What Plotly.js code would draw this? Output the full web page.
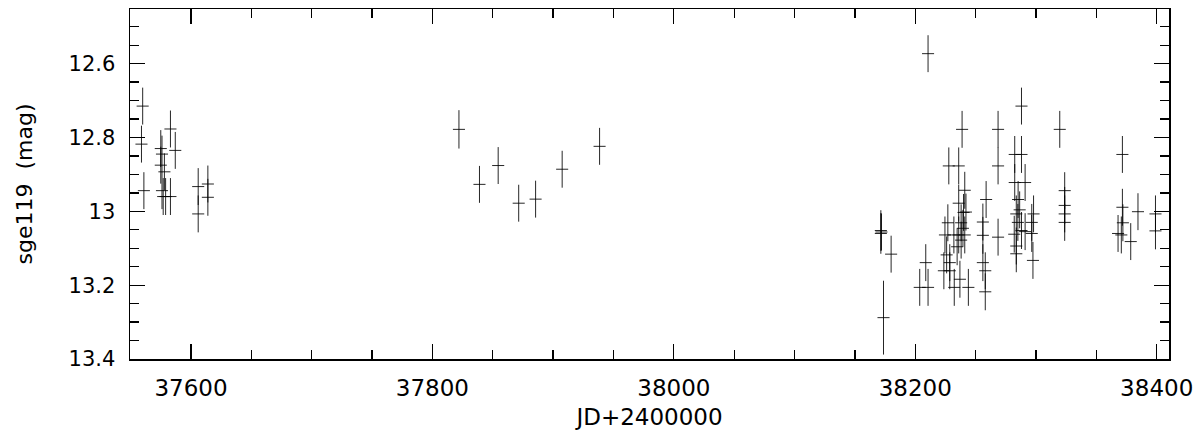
<!DOCTYPE html>
<html>
<head>
<meta charset="utf-8">
<script src="https://cdn.plot.ly/plotly-3.0.1.min.js"></script>
<style>html,body{margin:0;padding:0;background:#fff;}#chart{width:1200px;height:430px;}</style>
</head>
<body>
<div id="chart"></div>
<script>
// Julian date (JD - 2400000)
const jd = [
  37560, 37559, 37561, 37575, 37576, 37575, 37576, 37577, 37578, 37579, 37583, 37587, 37583, 37606, 37606, 37614, 37614,
  37822, 37839, 37854.5, 37871.5, 37885.5, 37907.5, 37938.5,
  38210.6, 38171.5, 38172, 38171.5, 38180, 38173.7, 38203.7, 38208.7, 38210.6,
  38227.8, 38236, 38238.8, 38268.6, 38268.6, 38268.6, 38258.7, 38256, 38256, 38256, 38258, 38258,
  38241, 38236, 38242, 38227, 38238, 38224.6, 38236, 38241, 38238, 38234.7, 38226, 38228.6, 38223.7, 38228.6, 38237, 38232.3, 38244, 38240, 38239.5, 38232,
  38288, 38282.4, 38288, 38282.4, 38291, 38285.2, 38286.5, 38283.7, 38298, 38285, 38296.5, 38288, 38282, 38296.5, 38283.7, 38283.7, 38297.5, 38291,
  38319.7, 38323.8, 38323.8, 38323.8, 38323.8,
  38371.6, 38371.6, 38372, 38368, 38370.7, 38378.5, 38384.5, 38399, 38399
];
// sge119 magnitude
const mag = [
  12.715, 12.818, 12.944, 12.83, 12.845, 12.875, 12.944, 12.96, 12.893, 12.96, 12.777, 12.835, 12.96, 12.933, 13.007, 12.926, 12.962,
  12.778, 12.927, 12.876, 12.978, 12.967, 12.886, 12.824,
  12.573, 13.052, 13.056, 13.06, 13.116, 13.288, 13.206, 13.139, 13.206,
  12.877, 12.877, 12.778, 12.778, 12.877, 13.07, 12.968, 13.029, 13.065, 13.139, 13.161, 13.218,
  12.943, 12.978, 13.002, 13.031, 13.031, 13.064, 13.064, 13.064, 13.078, 13.096, 13.118, 13.139, 13.161, 13.161, 13.184, 13.206, 13.206, 13.003, 13.046, 13.064,
  12.715, 12.846, 12.846, 12.922, 12.922, 12.968, 12.996, 13.007, 13.007, 13.03, 13.03, 13.052, 13.062, 13.06, 13.094, 13.115, 13.133, 13.055,
  12.778, 12.944, 12.984, 13.007, 13.03,
  12.846, 12.989, 13.031, 13.06, 13.064, 13.082, 13.001, 13.007, 13.053
];
// magnitude errors
const magErr = [
  0.05, 0.05, 0.05, 0.05, 0.05, 0.05, 0.05, 0.05, 0.05, 0.05, 0.05, 0.05, 0.05, 0.05, 0.05, 0.05, 0.05,
  0.052, 0.05, 0.05, 0.05, 0.05, 0.05, 0.05,
  0.05, 0.055, 0.05, 0.055, 0.05, 0.1, 0.05, 0.05, 0.05,
  0.05, 0.05, 0.05, 0.05, 0.05, 0.05, 0.05, 0.05, 0.05, 0.05, 0.05, 0.05,
  0.05, 0.05, 0.05, 0.05, 0.05, 0.05, 0.05, 0.05, 0.05, 0.05, 0.05, 0.05, 0.05, 0.05, 0.05, 0.05, 0.05, 0.05, 0.05, 0.05,
  0.05, 0.05, 0.05, 0.05, 0.05, 0.05, 0.05, 0.05, 0.05, 0.05, 0.05, 0.05, 0.05, 0.05, 0.05, 0.05, 0.05, 0.05,
  0.05, 0.05, 0.05, 0.05, 0.05,
  0.05, 0.05, 0.05, 0.05, 0.05, 0.05, 0.05, 0.05, 0.05
];
const jdErr = 5;

const xTickVals = [37600, 37800, 38000, 38200, 38400];
const yTickVals = [12.6, 12.8, 13, 13.2, 13.4];
const yTickText = ['12.6', '12.8', '13', '13.2', '13.4'];

const trace = {
  type: 'scatter', mode: 'markers', x: jd, y: mag,
  marker: {size: 1, color: 'rgba(0,0,0,0)'},
  error_y: {type: 'data', array: magErr, visible: true, width: 0, thickness: 1, color: 'rgba(0,0,0,0.85)'},
  error_x: {type: 'constant', value: jdErr, visible: true, width: 0, thickness: 1, color: 'rgba(0,0,0,0.85)'},
  hoverinfo: 'x+y'
};

const layout = {
  width: 1200, height: 430,
  margin: {l: 130, r: 31, t: 9, b: 71},
  paper_bgcolor: '#fff', plot_bgcolor: '#fff',
  showlegend: false,
  font: {family: 'DejaVu Sans', color: '#000'},
  xaxis: {
    range: [37549.5, 38410.2], tickvals: xTickVals, ticktext: xTickVals.map(String),
    ticks: 'inside', ticklen: 15, tickwidth: 1.3, tickcolor: '#000',
    minor: {dtick: 50, tick0: 37600, ticks: 'inside', ticklen: 9, tickwidth: 1.3, tickcolor: '#000'},
    showline: true, linecolor: '#000', linewidth: 1.5, mirror: 'allticks',
    showgrid: false, zeroline: false,
    tickfont: {family: 'DejaVu Sans', size: 23, color: '#000'},
    ticklabelstandoff: 8,
    title: {text: 'JD+2400000', font: {family: 'DejaVu Sans', size: 23, color: '#000'}, standoff: 23}
  },
  yaxis: {
    range: [13.4, 12.452], tickvals: yTickVals, ticktext: yTickText,
    ticks: 'inside', ticklen: 15, tickwidth: 1.3, tickcolor: '#000',
    minor: {dtick: 0.05, tick0: 12.6, ticks: 'inside', ticklen: 9, tickwidth: 1.3, tickcolor: '#000'},
    showline: true, linecolor: '#000', linewidth: 1.5, mirror: 'allticks',
    showgrid: false, zeroline: false,
    tickfont: {family: 'DejaVu Sans', size: 21, color: '#000'},
    ticklabelstandoff: 9,
    title: {text: 'sge119\u00A0\u00A0(mag)', font: {family: 'DejaVu Sans', size: 22, color: '#000'}, standoff: 30}
  }
};

Plotly.newPlot('chart', [trace], layout, {displayModeBar: false, staticPlot: true});
</script>
</body>
</html>
